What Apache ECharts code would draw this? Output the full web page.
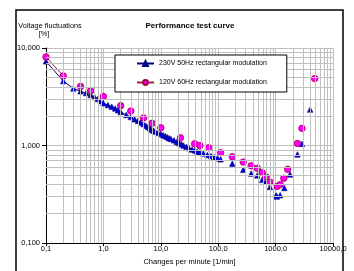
<!DOCTYPE html>
<html>
<head>
<meta charset="utf-8">
<script src="https://cdn.jsdelivr.net/npm/echarts@6/dist/echarts.min.js"></script>
<style>
  html, body { margin: 0; padding: 0; background: #fff; }
  #chart { width: 354px; height: 271px; }
</style>
</head>
<body>
<div id="chart"></div>
<script>
// tick values
const xTicks = [0.1, 1, 10, 100, 1000, 10000]
const yTicks = [0.1, 1, 10]

// 230V 50Hz rectangular modulation
const blueX = [0.1, 0.2, 0.3, 0.4, 0.5, 0.6, 0.7, 0.8, 0.9, 1, 1.2, 1.4, 1.6, 1.8, 2, 2.5, 3, 3.5, 4, 4.5, 5, 5.5, 6, 6.5, 7, 7.5, 8, 9, 10, 11, 12, 13, 14, 15, 17, 19, 21, 23, 25, 28, 31, 35, 39, 43, 48, 55, 65, 75, 85, 97, 110, 176, 273, 375, 480, 585, 682, 796, 1020, 1055, 1200, 1420, 1780, 2400, 2875, 4000]
const blueY = [7.3, 4.58, 3.85, 3.6, 3.45, 3.3, 3.15, 3.0, 2.85, 2.72, 2.6, 2.5, 2.4, 2.3, 2.21, 2.06, 1.96, 1.86, 1.79, 1.72, 1.66, 1.6, 1.55, 1.5, 1.45, 1.42, 1.39, 1.35, 1.31, 1.28, 1.25, 1.22, 1.19, 1.17, 1.13, 1.09, 1.06, 1.03, 1.0, 0.97, 0.94, 0.91, 0.894, 0.87, 0.855, 0.83, 0.8, 0.78, 0.76, 0.74, 0.722, 0.652, 0.564, 0.516, 0.494, 0.445, 0.426, 0.376, 0.308, 0.3, 0.31, 0.367, 0.505, 0.81, 1.04, 2.34]
const blueLineEnd = 51 // points joined by the line

// 120V 60Hz rectangular modulation
const pinkX = [0.1, 0.2, 0.4, 0.6, 1, 2, 3, 5, 7, 10, 22, 39, 48, 68, 110, 176, 273, 375, 480, 585, 682, 796, 1055, 1200, 1390, 1620, 2400, 2875, 4800]
const pinkY = [8.1, 5.17, 4.04, 3.64, 3.18, 2.56, 2.26, 1.92, 1.69, 1.52, 1.2, 1.045, 1.0, 0.95, 0.844, 0.767, 0.677, 0.62, 0.584, 0.527, 0.477, 0.422, 0.38, 0.398, 0.462, 0.57, 1.05, 1.5, 4.86]
const pinkLineEnd = 2

const minorMult = [2, 3, 4, 5, 6, 7, 8, 9]

function withGaps (xs, ys, lineEnd) {
  const out = []
  xs.forEach((x, i) => {
    if (i >= lineEnd && i > 0) out.push(['-', '-'])
    out.push([x, ys[i]])
  })
  return out
}

function minorLines (ticks, key) {
  const res = []
  ticks.slice(0, -1).forEach(t => {
    minorMult.forEach(m => res.push({ [key]: +(t * m).toPrecision(3) }))
  })
  return res
}

const fmt = (v, d) => v.toFixed(d).replace('.', ',')
const font = 'Liberation Sans, Arial, sans-serif'

const chart = echarts.init(document.getElementById('chart'))
chart.setOption({
  animation: false,
  textStyle: { fontFamily: font },
  title: {
    text: 'Performance test curve',
    left: 185, top: 17, textAlign: 'center',
    textStyle: { fontSize: 8, fontWeight: 'bold', color: '#000', fontFamily: font }
  },
  graphic: [
    { type: 'rect', shape: { x: 16, y: 10, width: 327, height: 275 }, style: { fill: null, stroke: '#000', lineWidth: 1.5 }, silent: true },
    { type: 'text', x: 50, y: 26, style: { text: 'Voltage fluctuations', fontSize: 7.3, fontFamily: font, fill: '#000', align: 'center', verticalAlign: 'middle' } },
    { type: 'text', x: 44, y: 34, style: { text: '[%]', fontSize: 7.3, fontFamily: font, fill: '#000', align: 'center', verticalAlign: 'middle' } }
  ],
  legend: {
    orient: 'vertical',
    left: 115, top: 55,
    z: 20,
    padding: [5, 20, 6, 21],
    itemGap: 12,
    itemWidth: 17, itemHeight: 6,
    backgroundColor: '#fff',
    borderColor: '#000', borderWidth: 1,
    textStyle: { fontSize: 7, color: '#000', fontFamily: font },
    data: ['230V 50Hz rectangular modulation', '120V 60Hz rectangular modulation']
  },
  grid: { left: 46, right: 21, top: 48, bottom: 19 },
  xAxis: {
    type: 'log', logBase: 10, min: xTicks[0], max: xTicks[xTicks.length - 1],
    name: 'Changes per minute [1/min]', nameLocation: 'middle', nameGap: 11,
    nameTextStyle: { fontSize: 7.5, color: '#000', fontFamily: font },
    axisLine: { lineStyle: { color: '#000', width: 1 } },
    axisTick: { show: true, length: 3, lineStyle: { color: '#000' } },
    axisLabel: { fontSize: 7.5, color: '#000', margin: 2, formatter: v => fmt(v, 1) },
    splitLine: { show: true, lineStyle: { color: '#c0c0c0', width: 1 } }
  },
  yAxis: {
    type: 'log', logBase: 10, min: yTicks[0], max: yTicks[yTicks.length - 1],
    axisLine: { show: true, lineStyle: { color: '#000', width: 1 } },
    axisTick: { show: true, length: 4, lineStyle: { color: '#000' } },
    axisLabel: { fontSize: 7.5, color: '#000', margin: 6, formatter: v => fmt(v, 3) },
    splitLine: { show: true, lineStyle: { color: '#c0c0c0', width: 1 } }
  },
  series: [
    {
      name: 'grid', type: 'line', data: [], z: 0, silent: true,
      markLine: {
        silent: true, symbol: ['none', 'none'], label: { show: false },
        lineStyle: { color: '#c0c0c0', width: 1, type: 'solid' },
        data: minorLines(xTicks, 'xAxis').concat(minorLines(yTicks, 'yAxis'))
      }
    },
    {
      name: '230V 50Hz rectangular modulation', type: 'line',
      data: withGaps(blueX, blueY, blueLineEnd),
      symbol: 'triangle', symbolSize: 5.5,
      lineStyle: { color: '#000080', width: 1 },
      itemStyle: { color: '#0000e0', borderColor: '#000080', borderWidth: 0.6 },
      z: 3
    },
    {
      name: '120V 60Hz rectangular modulation', type: 'line',
      data: withGaps(pinkX, pinkY, pinkLineEnd),
      symbol: 'circle', symbolSize: 6.5,
      lineStyle: { color: '#a02040', width: 1 },
      itemStyle: { color: '#ff00ff', borderColor: '#a00040', borderWidth: 0.8 },
      z: 4
    }
  ]
})
</script>
</body>
</html>
